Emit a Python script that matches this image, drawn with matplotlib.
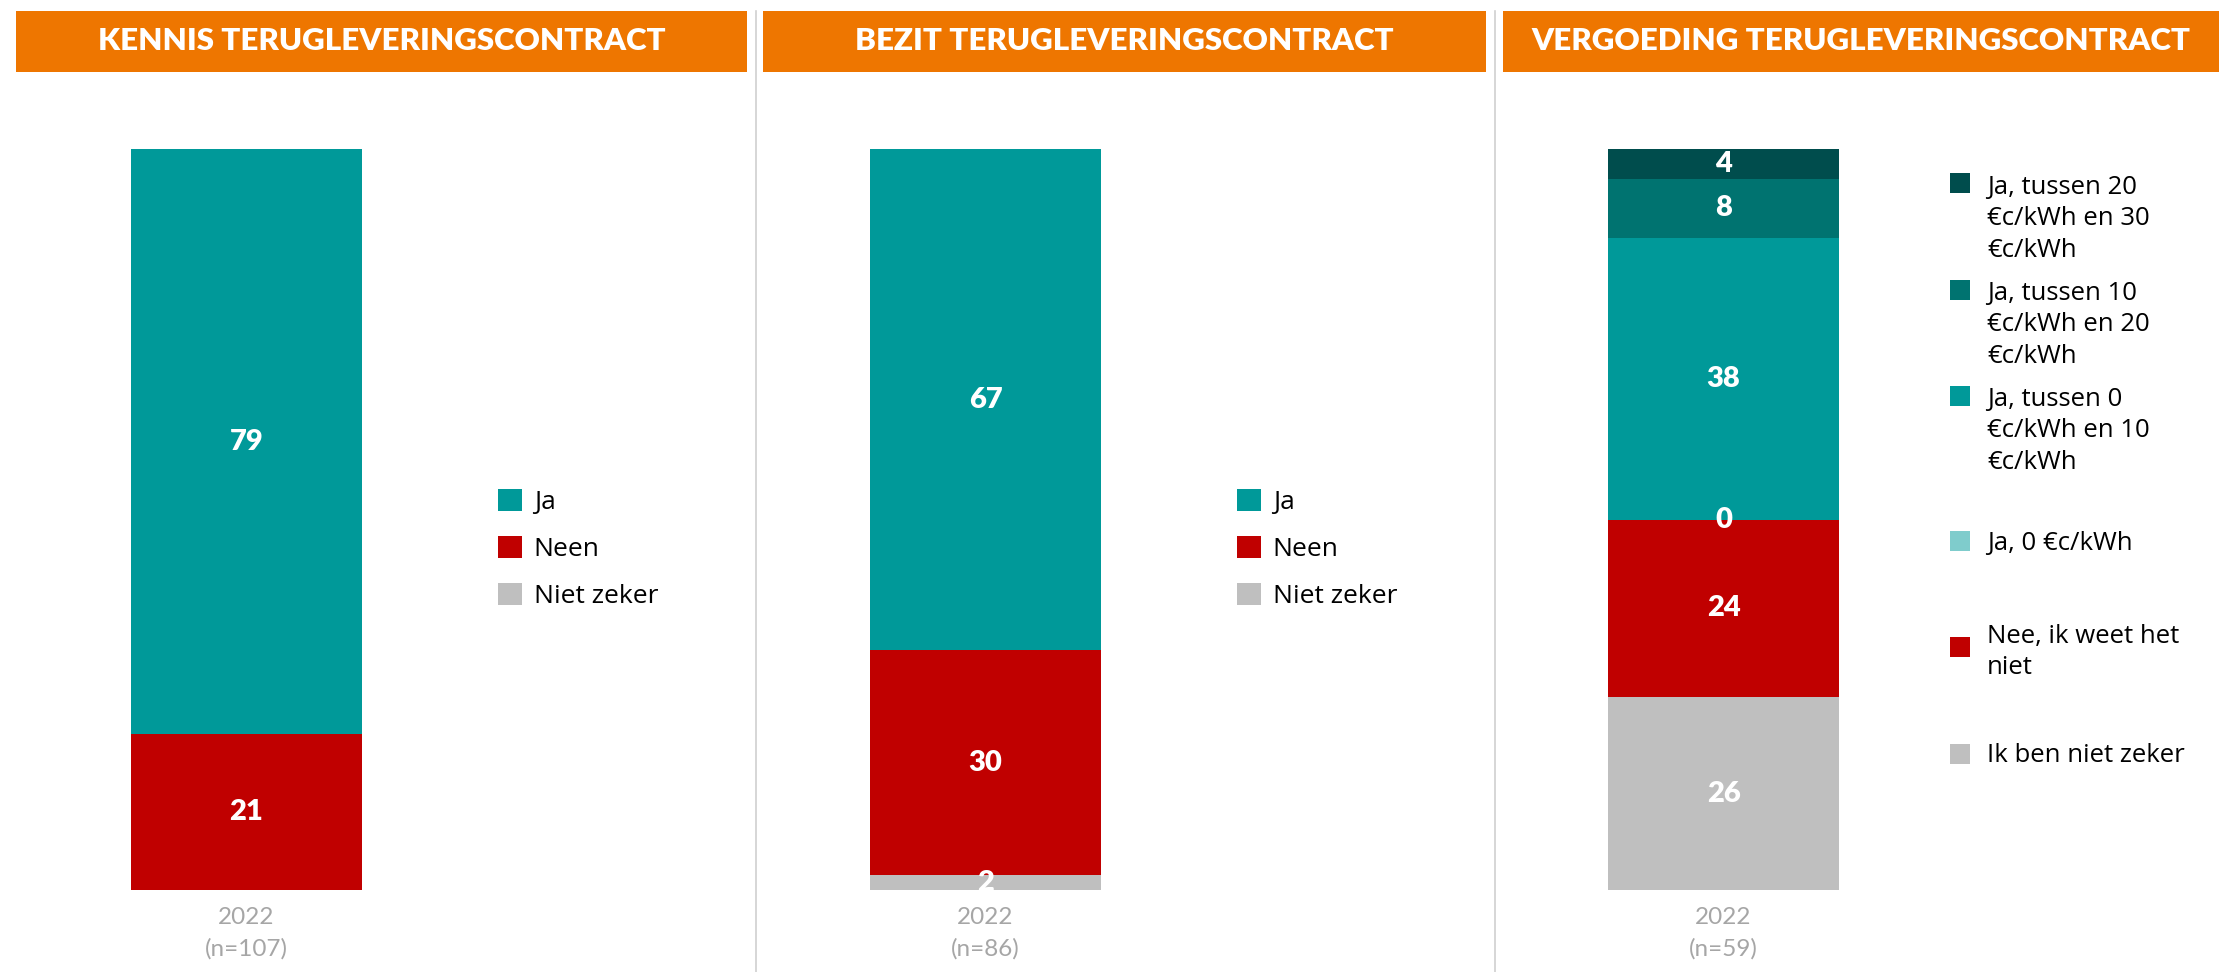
import textwrap
import matplotlib
matplotlib.use('Agg')
import matplotlib.pyplot as plt
from matplotlib.patches import Rectangle
from matplotlib.lines import Line2D

# figure size in pixels (dpi 100)
W, H = 2219, 972

# panel titles and x categories
titles = ['KENNIS TERUGLEVERINGSCONTRACT',
          'BEZIT TERUGLEVERINGSCONTRACT',
          'VERGOEDING TERUGLEVERINGSCONTRACT']
year = '2022'
sample_sizes = [107, 86, 59]

# series are listed bottom -> top of the stacked bar
kennis_labels = ['Niet zeker', 'Neen', 'Ja']
kennis_values = [0, 21, 79]

bezit_labels = ['Niet zeker', 'Neen', 'Ja']
bezit_values = [2, 30, 67]

vergoeding_labels = ['Ik ben niet zeker',
                     'Nee, ik weet het niet',
                     'Ja, 0 €c/kWh',
                     'Ja, tussen 0 €c/kWh en 10 €c/kWh',
                     'Ja, tussen 10 €c/kWh en 20 €c/kWh',
                     'Ja, tussen 20 €c/kWh en 30 €c/kWh']
vergoeding_values = [26, 24, 0, 38, 8, 4]

TEAL = '#009999'
RED = '#C00000'
GREY = '#BFBFBF'
basic_colors = [GREY, RED, TEAL]
vergoeding_colors = [GREY, RED, '#7FCCCC', TEAL, '#007370', '#004D4D']
ORANGE = '#EE7600'
LABEL_GREY = '#A6A6A6'


def fx(x):
    return x / W


def fy(y):
    return 1 - y / H


def draw_stack(ax, labels, values, colors, show_zero=False):
    """Stacked single bar with white value labels, returns bar handles."""
    bottom = 0
    handles = []
    for lab, val, col in zip(labels, values, colors):
        bars = ax.bar(0, val, width=1, bottom=bottom, color=col, label=lab)
        handles.append(bars)
        if val > 0 or show_zero:
            ax.text(0, bottom + val / 2, f'{val}', ha='center', va='center',
                    color='white', fontsize=21, fontweight='heavy',
                    family='Lato', clip_on=True)
        bottom += val
    return handles


fig = plt.figure(figsize=(W / 100, H / 100), dpi=100)

# bar axes: pixel x-range of each bar, same vertical range
bar_x = [(131, 362), (870, 1101), (1608, 1839)]
bar_top, bar_bottom = 149, 890
panels = [(kennis_labels, kennis_values, basic_colors, False),
          (bezit_labels, bezit_values, basic_colors, False),
          (vergoeding_labels, vergoeding_values, vergoeding_colors, True)]

axes = []
for (x0, x1), (labels, values, colors, show_zero), n in zip(bar_x, panels, sample_sizes):
    ax = fig.add_axes([fx(x0), fy(bar_bottom), (x1 - x0) / W, (bar_bottom - bar_top) / H])
    handles = draw_stack(ax, labels, values, colors, show_zero)
    ax.set_xlim(-0.5, 0.5)
    # 100% stacked: the bar always fills the axis
    ax.set_ylim(0, sum(values))
    for s in ax.spines.values():
        s.set_visible(False)
    ax.set_yticks([])
    ax.set_xticks([0])
    ax.set_xticklabels([f'{year}\n(n={n})'], fontsize=17.5, family='Lato',
                       color=LABEL_GREY, linespacing=1.62)
    ax.tick_params(axis='x', length=0, pad=12)
    axes.append((ax, handles, labels))

# legends for the first two panels (top series first)
for (ax, handles, labels), sq_left in zip(axes[:2], [498, 1237]):
    ax.legend(handles[::-1], labels[::-1], loc='center left',
              bbox_to_anchor=(fx(sq_left), fy(549)),
              bbox_transform=fig.transFigure, frameon=False,
              prop={'family': 'Open Sans', 'size': 19},
              handlelength=0.9, handleheight=0.9, handletextpad=0.45,
              labelspacing=0.8, borderpad=0, borderaxespad=0)

# legend of third panel, placed like the original slide
sq_centers = [183, 289.7, 396, 541, 647, 753.5]
text_first_line = [187, 293, 399, 543, 636, 755]
sq = 20
for lab, col, yc, yt in zip(vergoeding_labels[::-1], vergoeding_colors[::-1],
                            sq_centers, text_first_line):
    fig.add_artist(Rectangle((fx(1950), fy(yc + sq / 2)), sq / W, sq / H,
                             transform=fig.transFigure, color=col, lw=0))
    fig.text(fx(1987), fy(yt - 12), textwrap.fill(lab, 17), ha='left', va='top',
             fontsize=18.5, family='Open Sans', color='black', linespacing=1.33)

# orange title bands
header_x = [(16, 747), (763, 1486), (1503, 2219)]
for (x0, x1), title in zip(header_x, titles):
    fig.add_artist(Rectangle((fx(x0), fy(71.7)), (x1 - x0) / W, 60.7 / H,
                             transform=fig.transFigure, color=ORANGE, lw=0))
    fig.text(fx((x0 + x1) / 2), fy(41.5), title, ha='center', va='center',
             color='white', fontsize=22.5, fontweight='heavy', family='Lato')

# thin separators between the panels
for xs in [755.7, 1494.7]:
    fig.add_artist(Line2D([fx(xs), fx(xs)], [fy(11), 0], transform=fig.transFigure,
                          color='#D0D0D0', lw=1.2))

fig.savefig('out.png', dpi=100)
